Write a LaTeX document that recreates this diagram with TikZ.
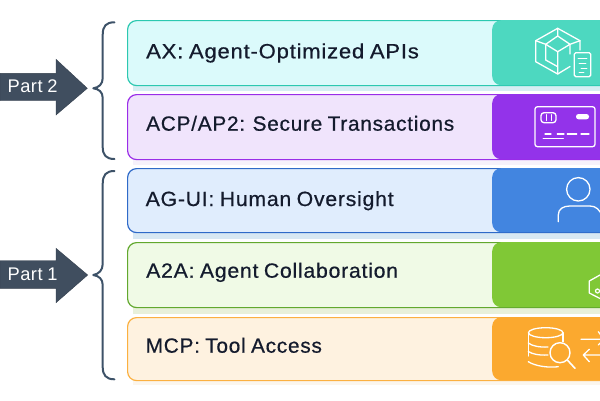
\documentclass[tikz,border=0pt]{standalone}
\usepackage{graphicx}
\usepackage{fontspec}
\setmainfont{Liberation Sans}
\newfontfamily\cardfont{Liberation Sans}[LetterSpace=3.6,FakeBold=0.6,WordSpace=0.82]
\newfontfamily\partfont{Liberation Sans}[LetterSpace=2.5,WordSpace=0.85]
\definecolor{dk}{HTML}{404E5F}
\definecolor{br}{HTML}{3D5268}
\definecolor{ink}{HTML}{141B2D}
\definecolor{tealA}{HTML}{2CC8B0}\definecolor{tealB}{HTML}{DBFAFB}\definecolor{tealC}{HTML}{4DD8C0}
\definecolor{purA}{HTML}{9A2DE8}\definecolor{purB}{HTML}{F0E4FC}\definecolor{purC}{HTML}{9333EA}
\definecolor{bluA}{HTML}{2F6AC8}\definecolor{bluB}{HTML}{E0EDFD}\definecolor{bluC}{HTML}{4285E0}
\definecolor{grnA}{HTML}{62A82E}\definecolor{grnB}{HTML}{F0FAE6}\definecolor{grnC}{HTML}{80C836}
\definecolor{orgA}{HTML}{FBB040}\definecolor{orgB}{HTML}{FEF2E0}\definecolor{orgC}{HTML}{FBA92F}
\definecolor{shA}{HTML}{D6EEF3}\definecolor{shB}{HTML}{F6F1FB}\definecolor{shC}{HTML}{D8E8F3}
\definecolor{shD}{HTML}{E8F0DA}\definecolor{shE}{HTML}{FBF6EE}
\tikzset{
 x=1pt,y=-1pt,
 cardbox/.style={draw=#1,line width=1.2pt,rounded corners=9pt,inner sep=0pt,anchor=north west},
 panelbox/.style={draw=none,fill=#1,rounded corners=9pt,inner sep=0pt,anchor=north west},
 cardtext/.style={anchor=base west,inner sep=0pt,text=ink,font=\cardfont\fontsize{20.6}{24}\selectfont},
 parttext/.style={anchor=base west,inner sep=0pt,text=white,font=\partfont\fontsize{18.3}{20}\selectfont},
 partarrow/.style={fill=dk,draw=dk!80!black,line width=.4pt},
 bracepath/.style={draw=br,line width=2pt,line cap=round,line join=round},
 icon/.style={draw=white,line width=1.3pt,line join=round,line cap=round},
 softshade/.style={fill=#1,draw=none},
}
\begin{document}
\begin{tikzpicture}
\useasboundingbox (0,0) rectangle (600,400);
\clip (0,0) rectangle (600,400);
% soft shadows under the cards
\fill[softshade=shA] (133,84) rectangle (600,91);
\fill[softshade=shB] (133,158) rectangle (600,165);
\fill[softshade=shC] (133,231) rectangle (600,239);
\fill[softshade=shD] (133,306) rectangle (600,314);
\fill[softshade=shE] (133,379) rectangle (600,385);
% cards
\node[cardbox=tealA,fill=tealB,minimum width=490pt,minimum height=65pt] (c1) at (127,20) {};
\node[cardbox=purA,fill=purB,minimum width=490pt,minimum height=65pt] (c2) at (127,94) {};
\node[cardbox=bluA,fill=bluB,minimum width=490pt,minimum height=64pt] (c3) at (127,168) {};
\node[cardbox=grnA,fill=grnB,minimum width=490pt,minimum height=65pt] (c4) at (127,242) {};
\node[cardbox=orgA,fill=orgB,minimum width=490pt,minimum height=63pt] (c5) at (127,317) {};
% coloured panels
\node[panelbox=tealC,minimum width=130pt,minimum height=65pt] (p1) at (492,20) {};
\node[panelbox=purC,minimum width=130pt,minimum height=65pt] (p2) at (492,94) {};
\node[panelbox=bluC,minimum width=130pt,minimum height=64pt] (p3) at (492,168) {};
\node[panelbox=grnC,minimum width=130pt,minimum height=65pt] (p4) at (492,242) {};
\node[panelbox=orgC,minimum width=130pt,minimum height=63pt] (p5) at (492,317) {};
% labels
\node[cardtext] (t1) at (146,58.3) {\scalebox{1.07}[1]{AX: Agent-Optimized APIs}};
\node[cardtext] (t2) at (146,130.7) {\scalebox{1.01}[1]{ACP/AP2: Secure Transactions}};
\node[cardtext] (t3) at (145.5,206) {\scalebox{1.03}[1]{AG-UI: Human Oversight}};
\node[cardtext] (t4) at (146,277.7) {\scalebox{1.03}[1]{A2A: Agent Collaboration}};
\node[cardtext] (t5) at (145.5,352.7) {\scalebox{1.01}[1]{MCP: Tool Access}};
% part arrows
\draw[partarrow] (0,73.3) -- (56,73.3) -- (56,59.3) -- (87.3,88.3) -- (56,115) -- (56,100.7) -- (0,100.7) -- cycle;
\draw[partarrow] (0,260.7) -- (56,260.7) -- (56,248.3) -- (87.7,275) -- (56,302.7) -- (56,288.3) -- (0,288.3) -- cycle;
\node[parttext] (a2) at (7.5,92.5) {Part 2};
\node[parttext] (a1) at (7.5,280.5) {Part 1};
% braces
\draw[bracepath] (114.5,22.3) .. controls (106,22.3) and (102.7,26) .. (102.7,35) -- (102.7,78) .. controls (102.7,84) and (99,87.5) .. (93.3,88.3) .. controls (99,89) and (102.7,92) .. (102.7,98) -- (102.7,147) .. controls (102.7,155) and (106,159) .. (114.5,159);
\draw[bracepath] (114.5,171) .. controls (106,171) and (102.7,175) .. (102.7,184) -- (102.7,264) .. controls (102.7,270) and (99,274) .. (93.3,275) .. controls (99,276) and (102.7,279) .. (102.7,285) -- (102.7,367) .. controls (102.7,375) and (106,379.3) .. (114.5,379.3);
% box icon
\draw[icon] (570,66.5) -- (557.7,74) -- (535.7,61.7) -- (535.7,40.7) -- (557.7,28.3) -- (580,40.7) -- (580,50);
\draw[icon] (545.7,44.3) -- (557.7,36) -- (570,44.3) -- (557.7,51.7) -- cycle;
\draw[icon] (535.7,40.7) -- (545.7,44.3) (557.7,36) -- (557.7,28.3) (557.7,51.7) -- (557.7,74) (545.7,44.3) -- (545.7,60) -- (557.7,66.7) (570,44.3) -- (570,54) (570,44.3) -- (580,40.7);
\draw[icon,rounded corners=1.5pt] (574.3,52.7) rectangle (590.7,76.7);
\draw[icon,line width=.8pt] (578,58) -- (587,58) (579,63) -- (586,63) (581,68) -- (587,68) (579,72.5) -- (584,72.5);
% card icon
\draw[icon,rounded corners=2.5pt] (535,106.7) rectangle (595,146.7);
\draw[icon,rounded corners=3pt] (541,112.7) rectangle (556,122.7);
\draw[icon,line width=1pt] (546,114.5) -- (546,120.5) (551,114.5) -- (551,120.5);
\draw[draw=none,fill=white,rounded corners=2.5pt] (576,114) rectangle (589,119.3);
\draw[icon] (545,134) -- (551,134) (557.3,134) -- (564,134) (567.3,134) -- (576.7,134) (581,134) -- (589,134) (543.3,138.3) -- (563.3,138.3);
% person icon
\node[draw=white,line width=1.3pt,circle,minimum size=23.4pt,inner sep=0pt] (head) at (578.3,189.3) {};
\draw[icon] (558.3,221.7) -- (558.3,215) .. controls (558.3,209) and (563,206) .. (570,206) -- (590,206) .. controls (596,206) and (600,210) .. (602,216);
% green hexagon
\draw[icon] (606,275) -- (600,275) -- (589.3,281) -- (589.3,293) -- (600,298.5) -- (606,298.5);
\node[draw=white,line width=1.2pt,circle,minimum size=4pt,inner sep=0pt] (hexdot) at (597.5,291) {};
% database icon
\draw[icon] (545.7,332.7) ellipse [x radius=17.3,y radius=5];
\draw[icon] (528.3,332.7) -- (528.3,356) (563.1,332.7) -- (563.1,341.7);
\draw[icon] (528.3,343) .. controls (532,346) and (540,347.5) .. (548,347);
\draw[icon] (528.3,351.5) .. controls (532,354) and (539,355.5) .. (548,355);
\draw[icon] (528.3,361.7) .. controls (535,366) and (548,368) .. (558.3,366.7);
\node[draw=white,line width=1.4pt,circle,minimum size=20pt,inner sep=0pt] (lens) at (560,352.7) {};
\draw[icon,line width=1.6pt] (lens.-45) -- (575,368.3);
\draw[icon] (581,339.3) -- (602,339.3) (598.3,331.7) -- (604,339.3) -- (598.3,345);
\draw[icon] (602,355) -- (583.3,355) (589.3,349.3) -- (583.3,355) -- (589.3,361.7);
\end{tikzpicture}
\end{document}
